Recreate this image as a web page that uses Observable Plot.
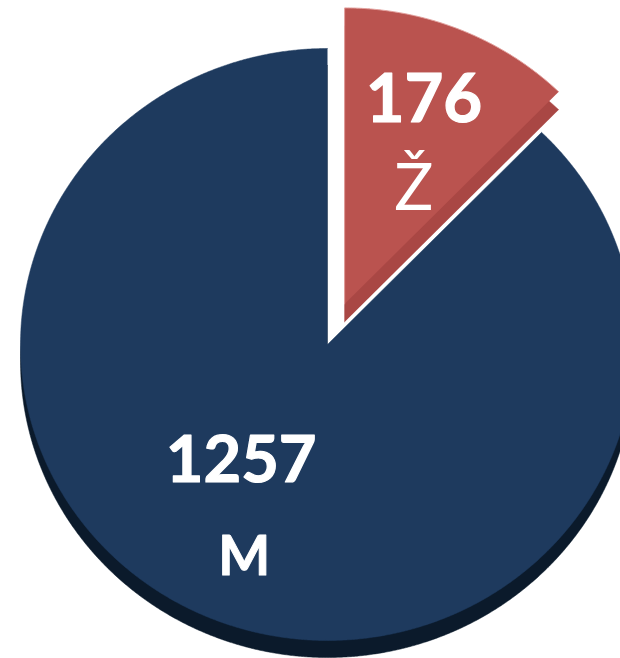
<!DOCTYPE html>
<html>
<head>
<meta charset="utf-8">
<script src="https://cdn.jsdelivr.net/npm/d3@7"></script>
<script src="https://cdn.jsdelivr.net/npm/@observablehq/plot@0.6"></script>
<style>
  html, body { margin: 0; padding: 0; background: #fff; }
  #chart svg { display: block; }
</style>
</head>
<body>
<div id="chart"></div>
<script>
// ---- data ----
const categories = ["Ž", "M"];
const values = [176, 1257];
const exploded = [true, false];

// ---- styles ----
const faceColors = ["#BA534F", "#1E3A5E"];
const sideColors = ["#A94744", "#0B1A2B"];
const nameWeights = ["normal", "bold"];
const nameStroke = [0, 1];
const valueSizes = [67, 65];
const nameSizes = [65, 55];
const valueOffsets = [[10, -17], [-17, -27]];
const nameOffsets = [[0, 71], [-14, 66]];
const explodeDist = 0.148;
const labelRadius = 0.6;
const sideDepth = [18, 17];

// ---- geometry from data ----
const arcs = d3.pie().sort(null).value(d => d)(values);
const slicePts = [];
const labels = [];
arcs.forEach((a, i) => {
  const mid = (a.startAngle + a.endAngle) / 2;
  const ox = exploded[i] ? explodeDist * Math.sin(mid) : 0;
  const oy = exploded[i] ? explodeDist * Math.cos(mid) : 0;
  slicePts.push({cat: categories[i], x: ox, y: oy});
  const n = Math.max(2, Math.ceil((a.endAngle - a.startAngle) / 0.005));
  for (let k = 0; k <= n; k++) {
    const t = a.startAngle + (a.endAngle - a.startAngle) * k / n;
    slicePts.push({cat: categories[i], x: ox + Math.sin(t), y: oy + Math.cos(t)});
  }
  labels.push({
    cat: categories[i],
    value: String(values[i]),
    x: ox + labelRadius * Math.sin(mid),
    y: oy + labelRadius * Math.cos(mid),
    i
  });
});

const W = 620, H = 658;
const cx = 327, cy = 344, rx = 307, ry = 296;

const sliceMarks = (i) => {
  const c = categories[i];
  const pts = slicePts.filter(d => d.cat === c);
  return [
    Plot.line(pts, {x: "x", y: "y", dy: sideDepth[i], fill: sideColors[i], stroke: sideColors[i], strokeWidth: 0.5}),
    Plot.line(pts, {x: "x", y: "y", fill: faceColors[i],
      stroke: i === 0 ? "#E3A19E" : faceColors[i], strokeWidth: i === 0 ? 1 : 0.5})
  ];
};
// navy slice first, exploded red slice on top
const marks = [...sliceMarks(1), ...sliceMarks(0)];

labels.forEach(l => {
  marks.push(Plot.text([l], {
    x: "x", y: "y", text: "value", fill: "white", stroke: "white", strokeWidth: 1.2,
    fontFamily: "Lato", fontWeight: "bold", fontSize: valueSizes[l.i],
    textAnchor: "middle", lineAnchor: "bottom",
    dx: valueOffsets[l.i][0], dy: valueOffsets[l.i][1]
  }));
  marks.push(Plot.text([l], {
    x: "x", y: "y", text: "cat", fill: "white", stroke: "white", strokeWidth: nameStroke[l.i],
    fontFamily: "Lato", fontWeight: nameWeights[l.i], fontSize: nameSizes[l.i],
    textAnchor: "middle", lineAnchor: "bottom",
    dx: nameOffsets[l.i][0], dy: nameOffsets[l.i][1]
  }));
});

const chart = Plot.plot({
  width: W,
  height: H,
  margin: 0,
  style: {background: "white", overflow: "hidden"},
  x: {domain: [(0 - cx) / rx, (W - cx) / rx], axis: null},
  y: {domain: [(cy - H) / ry, cy / ry], axis: null},
  marks
});
document.getElementById("chart").appendChild(chart);
</script>
</body>
</html>
